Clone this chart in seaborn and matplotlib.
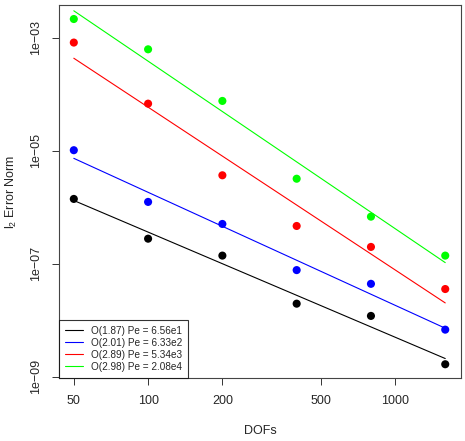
import numpy as np
import pandas as pd
import matplotlib
matplotlib.use("Agg")
import matplotlib.pyplot as plt
import seaborn as sns

# data (log-log convergence study)
dofs = [50, 100, 200, 400, 800, 1600]
err_pe1 = [1.40e-6, 2.77e-7, 1.39e-7, 1.96e-8, 1.19e-8, 1.66e-9]
err_pe2 = [1.02e-5, 1.24e-6, 5.05e-7, 7.70e-8, 4.40e-8, 6.80e-9]
err_pe3 = [8.20e-4, 6.80e-5, 3.67e-6, 4.65e-7, 1.98e-7, 3.56e-8]
err_pe4 = [2.14e-3, 6.23e-4, 7.60e-5, 3.19e-6, 6.80e-7, 1.39e-7]
labels = ["O(1.87) Pe = 6.56e1", "O(2.01) Pe = 6.33e2",
          "O(2.89) Pe = 5.34e3", "O(2.98) Pe = 2.08e4"]
colors = ["#000000", "#0000FF", "#FF0000", "#00FF00"]
xticks = [50, 100, 200, 500, 1000]
yticks = [1e-9, 1e-7, 1e-5, 1e-3]
ytick_labels = ["1e\u221209", "1e\u221207", "1e\u221205", "1e\u221203"]

sns.set_style("ticks")
plt.rcParams["font.family"] = ["Liberation Sans", "DejaVu Sans"]

rows = []
for lab, errs in zip(labels, [err_pe1, err_pe2, err_pe3, err_pe4]):
    lx = np.log10(dofs)
    ly = np.log10(errs)
    k, b = np.polyfit(lx, ly, 1)
    for d, e, f in zip(dofs, errs, 10 ** (k * lx + b)):
        rows.append({"DOFs": d, "err": e, "fit": f, "series": lab})
df = pd.DataFrame(rows)

fig = plt.figure(figsize=(4.65, 4.41), dpi=100)
ax = fig.add_axes([0.1269, 0.1429, 0.8645, 0.8458])

sns.lineplot(data=df, x="DOFs", y="fit", hue="series", palette=colors,
             linewidth=0.8, ax=ax, legend=True)
sns.scatterplot(data=df, x="DOFs", y="err", hue="series", palette=colors,
                s=34, edgecolor="none", ax=ax, legend=False)

ax.set_xscale("log")
ax.set_yscale("log")
ax.set_xlim(10 ** 1.639, 10 ** 3.268)
ax.set_ylim(10 ** -9.023, 10 ** -2.421)
ax.set_xticks(xticks)
ax.set_xticklabels([str(t) for t in xticks])
ax.set_yticks(yticks)
ax.set_yticklabels(ytick_labels, rotation=90, va="center")
ax.minorticks_off()
ax.tick_params(axis="both", labelsize=9, length=5, width=0.7, color="#333333",
               direction="out", pad=7)
for sp in ax.spines.values():
    sp.set_visible(True)
    sp.set_linewidth(0.8)
    sp.set_color("#444444")

ax.set_xlabel("DOFs", fontsize=9, labelpad=13)
ax.set_ylabel(r"$\mathregular{l_2}$ Error Norm", fontsize=9, labelpad=8)

handles, _ = ax.get_legend_handles_labels()
leg = ax.legend(handles, labels, loc="lower left", borderaxespad=0,
                fontsize=7.2, frameon=True, fancybox=False,
                edgecolor="black", handlelength=1.8, handletextpad=0.8,
                labelspacing=0.2, borderpad=0.6)
leg.get_frame().set_linewidth(0.8)

fig.savefig("out.png", dpi=100)
